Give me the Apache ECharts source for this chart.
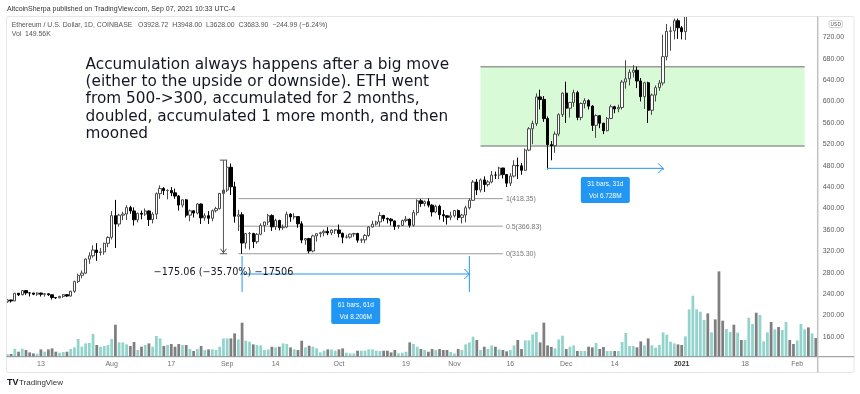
<!DOCTYPE html>
<html><head><meta charset="utf-8">
<script src="https://cdn.jsdelivr.net/npm/echarts/dist/echarts.min.js"></script>
<style>html,body{margin:0;padding:0;background:#fff}#c{width:860px;height:394px}</style>
</head><body><div id="c"></div>
<script>
// ---------- DATA ----------
const startDate = '2020-07-04';
// [open, high, low, close]
const ohlcJul = [[225.4,230.0,223.5,228.9],[228.9,229.0,224.0,227.1],[227.1,242.0,226.5,241.4],[241.4,241.6,236.3,238.6],[238.6,247.0,237.6,246.4],[246.4,247.3,238.6,242.1],[242.1,243.0,235.5,241.8],[241.8,242.2,237.9,239.6],[239.6,243.0,236.5,241.8],[241.8,242.5,235.4,239.5],[239.5,241.1,235.0,240.4],[240.4,241.0,236.6,238.6],[238.6,238.9,229.6,233.5],[233.5,234.4,231.0,232.8],[232.8,236.9,232.2,235.5],[235.5,239.9,232.8,238.8],[238.8,239.2,234.7,236.2],[236.2,246.0,235.4,245.1],[245.1,265.0,242.2,263.3],[263.3,278.0,260.6,275.0],[275.0,283.9,269.5,279.0],[279.0,306.6,277.2,305.3],[305.3,318.0,296.5,311.5],[311.5,331.0,308.0,322.2],[322.2,335.0,302.0,317.6],[317.6,326.0,312.0,318.7],[318.7,336.0,313.5,334.8],[334.8,348.0,327.5,345.9]];
const ohlcAug = [[345.9,395.0,342.0,386.5],[386.5,416.0,326.0,370.8],[370.8,390.0,366.0,387.4],[387.4,393.9,378.0,389.6],[389.6,406.0,378.5,401.6],[401.6,405.0,390.0,395.3],[395.3,402.0,368.0,378.7],[378.7,392.0,374.0,391.0],[391.0,396.0,379.6,389.3],[389.3,400.0,386.0,395.3],[395.3,396.5,367.0,379.2],[379.2,393.0,372.0,389.4],[389.4,430.0,380.0,427.6],[427.6,443.0,418.0,437.3],[437.3,440.0,425.0,433.4],[433.4,436.0,417.0,433.5],[433.5,440.0,423.0,429.2],[429.2,437.0,418.0,423.2],[423.2,425.0,396.0,406.3],[406.3,417.0,402.0,416.1],[416.1,417.5,383.0,387.4],[387.4,398.0,376.0,395.6],[395.6,396.5,383.0,391.4],[391.4,410.0,389.0,408.3],[408.3,409.0,371.0,382.5],[382.5,391.0,377.0,386.4],[386.4,395.0,371.0,381.7],[381.7,398.0,376.0,395.8],[395.8,403.0,392.5,399.7],[399.7,429.0,398.0,428.1],[428.1,438.0,420.0,434.3]];
const ohlcSep = [[434.3,490.4,430.5,477.0],[477.0,484.0,425.0,440.5],[440.5,450.0,373.5,385.4],[385.4,397.5,358.0,388.2],[388.2,393.0,315.3,335.3],[335.3,354.0,325.0,352.9],[352.9,356.0,323.0,353.1],[353.1,354.5,326.0,337.7],[337.7,354.0,334.0,351.7],[351.7,372.0,350.0,368.0],[368.0,375.0,356.0,374.7],[374.7,390.0,369.0,386.6],[386.6,389.0,358.0,365.6],[365.6,381.0,360.0,377.5],[377.5,379.0,359.0,364.0],[364.0,370.0,360.0,365.3],[365.3,394.0,363.0,389.2],[389.2,391.0,375.0,384.2],[384.2,391.0,379.5,384.8],[384.8,385.5,364.0,371.3],[371.3,376.0,335.0,340.9],[340.9,344.5,332.0,343.7],[343.7,345.0,316.0,320.4],[320.4,351.0,318.0,348.6],[348.6,353.0,338.0,352.8],[352.8,356.5,346.0,354.6],[354.6,360.5,348.0,357.3],[357.3,365.0,350.0,354.2],[354.2,361.0,350.0,359.6],[359.6,361.0,352.5,359.8]];
const ohlcOct = [[359.8,370.0,346.0,353.4],[353.4,355.0,335.0,346.2],[346.2,351.0,344.0,346.3],[346.3,353.0,343.5,352.0],[352.0,354.5,347.0,353.1],[353.1,354.5,336.0,340.7],[340.7,344.0,335.5,341.3],[341.3,352.0,335.0,349.5],[349.5,367.0,347.0,365.3],[365.3,377.0,364.0,370.7],[370.7,377.0,368.0,374.8],[374.8,393.0,366.0,386.9],[386.9,388.0,376.0,381.2],[381.2,383.0,372.0,379.9],[379.9,382.0,368.0,376.7],[376.7,377.5,360.0,366.4],[366.4,369.0,362.0,368.4],[368.4,379.0,367.0,377.4],[377.4,386.0,374.0,379.9],[379.9,381.0,364.0,368.5],[368.5,397.0,366.0,392.2],[392.2,417.0,387.0,414.3],[414.3,418.0,403.0,409.2],[409.2,415.0,404.0,412.8],[412.8,419.0,402.0,406.2],[406.2,408.0,385.0,393.4],[393.4,407.0,391.0,404.0],[404.0,407.0,379.0,388.4],[388.4,397.0,375.0,386.3],[386.3,387.0,370.0,383.4],[383.4,394.0,378.0,386.2]];
const ohlcNov = [[386.2,397.0,383.0,396.1],[396.1,398.0,378.0,383.2],[383.2,390.0,372.0,387.7],[387.7,405.0,374.0,401.3],[401.3,419.0,398.0,415.2],[415.2,453.0,414.0,449.3],[449.3,455.0,425.0,434.6],[434.6,456.0,430.0,453.3],[453.3,460.0,431.0,444.7],[444.7,453.0,441.0,449.5],[449.5,470.0,447.0,462.4],[462.4,469.0,455.0,462.3],[462.3,478.0,455.0,475.6],[475.6,476.0,456.0,463.3],[463.3,464.0,440.0,447.3],[447.3,466.0,442.0,460.5],[460.5,490.0,458.0,480.5],[480.5,495.0,455.0,479.7],[479.7,485.0,463.0,471.3],[471.3,512.0,470.0,509.1],[509.1,552.0,507.0,549.0],[549.0,564.0,520.0,558.8],[558.8,615.0,554.0,608.5],[608.5,622.0,585.0,603.9],[603.9,610.0,562.0,568.0],[568.0,572.0,475.0,519.3],[519.3,526.0,490.0,517.3],[517.3,544.0,504.0,539.0],[539.0,578.0,535.0,575.3],[575.3,617.0,571.0,615.5]];
const ohlcDec = [[615.5,637.0,560.0,587.4],[587.4,599.0,570.0,598.2],[598.2,622.0,590.0,616.5],[616.5,620.0,565.0,570.2],[570.2,598.0,565.0,596.2],[596.2,606.0,587.0,601.6],[601.6,604.0,585.0,591.3],[591.3,593.0,545.0,555.3],[555.3,576.0,532.0,573.5],[573.5,574.0,550.0,559.4],[559.4,560.0,539.0,545.4],[545.4,571.0,544.0,568.3],[568.3,594.0,567.0,590.2],[590.2,592.0,578.0,586.1],[586.1,594.0,580.0,588.8],[588.8,640.0,585.0,636.4],[636.4,677.0,624.0,642.5],[642.5,660.0,630.0,654.6],[654.6,668.0,645.0,658.4],[658.4,665.0,625.0,638.3],[638.3,644.0,600.0,609.0],[609.0,637.0,586.0,635.0],[635.0,637.0,560.0,583.6],[583.6,615.0,575.0,612.0],[612.0,630.0,600.0,625.9],[625.9,640.0,620.0,634.6],[634.6,725.0,630.0,683.8],[683.8,745.0,677.0,731.1],[731.1,740.0,695.0,731.9],[731.9,755.0,716.0,751.0],[751.0,755.0,717.0,737.8]];
const ohlcJan = [[737.8,741.0,716.0,730.5],[730.5,786.0,715.0,775.0],[775.0,1011.0,770.0,979.0],[979.0,1160.0,892.0,1042.0],[1042.0,1140.0,980.0,1100.0],[1100.0,1215.0,1065.0,1208.0],[1208.0,1278.0,1170.0,1225.0],[1225.0,1266.0,1090.0,1224.0],[1224.0,1300.0,1199.0,1281.0],[1281.0,1348.0,1171.0,1262.0],[1262.0,1265.0,917.0,1088.0],[1088.0,1149.0,1014.0,1045.0],[1045.0,1138.0,1000.0,1132.0],[1132.0,1248.0,1100.0,1218.0],[1218.0,1250.0,1065.0,1171.0],[1171.0,1290.0,1150.0,1232.0],[1232.0,1265.0,1150.0,1228.0],[1228.0,1265.0,1170.0,1255.0],[1255.0,1440.0,1250.0,1379.0],[1379.0,1390.0,1250.0,1379.5],[1379.5,1380.0,1040.0,1108.0],[1108.0,1250.0,1020.0,1231.0],[1231.0,1263.0,1190.0,1234.0],[1234.0,1395.0,1225.0,1391.0],[1391.0,1475.0,1310.0,1324.0],[1324.0,1370.0,1255.0,1357.0],[1357.0,1370.0,1215.0,1249.0],[1249.0,1350.0,1225.0,1336.0],[1336.0,1420.0,1290.0,1383.0],[1383.0,1390.0,1310.0,1380.0],[1380.0,1385.0,1275.0,1315.0]];
const ohlcFeb = [[1315.0,1375.0,1300.0,1369.0],[1369.0,1540.0,1356.0,1515.0],[1515.0,1670.0,1500.0,1661.0],[1661.0,1695.0,1540.0,1590.0],[1590.0,1740.0,1560.0,1720.0],[1720.0,1745.0,1650.0,1680.0]];

// volume, thousands
const volJul = [43,43,123,80,128,107,69,53,48,117,80,117,133,80,64,75,80,123,149,283,160,213,219,363,187,160,171,187];
const volAug = [283,512,229,229,197,171,235,107,160,187,213,160,331,293,171,187,203,160,203,187,187,123,91,123,171,107,117,117,107,160,293];
const volSep = [293,293,373,277,544,256,240,197,187,181,107,117,160,149,160,213,203,149,117,107,256,149,176,160,133,69,96,117,117,96];
const volOct = [117,133,64,53,53,96,96,96,117,117,96,91,96,96,69,107,53,64,80,229,203,160,123,107,80,123,107,123,107,107,75];
const volNov = [53,123,107,197,229,320,267,107,160,123,181,160,117,107,85,107,181,267,123,261,261,357,395,229,544,181,155,133,277,336];
const volDec = [123,160,181,91,91,91,160,149,219,123,155,91,91,91,91,235,379,171,171,149,245,181,293,181,144,187,389,352,240,213,197];
const volJan = [187,325,757,976,757,720,587,693,389,597,1365,576,443,395,512,384,267,267,624,523,704,667,245,389,555,437,475,427,555,267,203];
const volFeb = [261,523,437,469,373,299];

// time-axis tick labels
const tickDates  = ['2020-07-13','2020-08-01','2020-08-17','2020-09-01','2020-09-14','2020-10-01','2020-10-19','2020-11-01','2020-11-16','2020-12-01','2020-12-14','2021-01-01','2021-01-18','2021-02-01'];
const tickTexts  = ['13','Aug','17','Sep','14','Oct','19','Nov','16','Dec','14','2021','18','Feb'];

// drawings (anchored in date / price)
const fibLevels = [418.35, 366.83, 315.30];
const fibLabels = ['1(418.35)', '0.5(366.83)', '0(315.30)'];
const fibDates  = ['2020-09-04', '2020-11-14'];
const measureDates = ['2020-08-30', '2020-08-31', '2020-09-01'];
const measurePrices = [490.36, 315.30];
const measureText = '\u2212175.06 (\u221235.70%) \u221217506';
const range1Dates = ['2020-09-05', '2020-11-05'];
const range1Prices = [311, 277.4, 244];
const range1Text = ['61 bars, 61d', 'Vol 8.206M'];
const range2Dates = ['2020-11-26', '2020-12-27'];
const range2Prices = [475, 475, 472];
const range2Text = ['31 bars, 31d', 'Vol 6.728M'];
const zoneDates = ['2020-11-08', '2021-02-03'];
const zonePrices = [665, 516.7];
const noteAnchor = ['2020-07-25', 686];
const noteLines = ['Accumulation always happens after a big move', '(either to the upside or downside). ETH went', 'from 500->300, accumulated for 2 months,', 'doubled, accumulated 1 more month, and then', 'mooned'];

// ---------- BUILD ----------
const ohlc = [].concat(ohlcJul, ohlcAug, ohlcSep, ohlcOct, ohlcNov, ohlcDec, ohlcJan, ohlcFeb);
const vols = [].concat(volJul, volAug, volSep, volOct, volNov, volDec, volJan, volFeb);
const dates = [];
const t0 = Date.parse(startDate + 'T00:00:00Z');
for (let k = 0; k < ohlc.length; k++) dates.push(new Date(t0 + k * 86400000).toISOString().slice(0, 10));
const tickMap = {};
tickDates.forEach((d, k) => tickMap[d] = tickTexts[k]);

const FONT = '"Liberation Sans", Arial, sans-serif';
const chart = echarts.init(document.getElementById('c'), null, {renderer: 'canvas'});
const gridL = 5.5, gridR = 42.3;
chart.setOption({
  animation: false,
  backgroundColor: '#ffffff',
  grid: [
    {left: gridL, right: gridR, top: 15.9, height: 342.3, outerBoundsMode: 'none'},
    {left: gridL, right: gridR, top: 256.7, height: 100, outerBoundsMode: 'none'}
  ],
  xAxis: [
    {type: 'category', gridIndex: 0, data: dates, boundaryGap: true, show: false},
    {type: 'category', gridIndex: 1, data: dates, boundaryGap: true,
      axisLine: {show: false}, axisTick: {show: false}, splitLine: {show: false},
      axisLabel: {
        interval: (i, v) => tickMap[v] !== undefined,
        formatter: v => v === '2021-01-01' ? '{b|' + tickMap[v] + '}' : tickMap[v],
        fontSize: 7, color: '#707070', margin: 4, fontFamily: FONT, hideOverlap: false,
        rich: {b: {fontSize: 7, color: '#333', fontWeight: 'bold', fontFamily: FONT}}
      }}
  ],
  yAxis: [
    {type: 'value', gridIndex: 0, position: 'right', min: 120, max: 760, interval: 40, scale: false,
      axisLine: {show: false}, axisTick: {show: false}, splitLine: {show: false},
      axisLabel: {showMinLabel: false, showMaxLabel: false, formatter: v => v.toFixed(2),
        fontSize: 7, color: '#5a5a5a', margin: 5, fontFamily: FONT}},
    {type: 'value', gridIndex: 1, min: 0, max: 1600, show: false}
  ],
  series: [
    {type: 'bar', xAxisIndex: 1, yAxisIndex: 1, barWidth: '74%', z: 2,
      data: vols.map((v, k) => ({value: v, itemStyle: {color: ohlc[k][3] >= ohlc[k][0] ? '#92d3cc' : '#7f7f7f'}}))},
    {type: 'candlestick', xAxisIndex: 0, yAxisIndex: 0, barWidth: 2.8, clip: true, z: 3,
      data: ohlc.map(r => [r[0], r[3], r[2], r[1]]),
      itemStyle: {color: '#ffffff', color0: '#000000', borderColor: '#4a4a4a', borderColor0: '#000000', borderWidth: 1}}
  ]
});

// ---------- DRAWINGS ----------
const P = (d, p) => chart.convertToPixel({xAxisIndex: 0, yAxisIndex: 0}, [d, p]);
const g = [];
const line = (a, b, stroke, w, z) => g.push({type: 'line', z: z, silent: true, shape: {x1: a[0], y1: a[1], x2: b[0], y2: b[1]}, style: {stroke: stroke, lineWidth: w}});
const text = (x, y, s, font, fill, align, va, z) => g.push({type: 'text', z: z, silent: true, style: {x: x, y: y, text: s, font: font, fill: fill, textAlign: align, textVerticalAlign: va}});

// mask above the price pane (pane clips candles that run off the top)
g.push({type: 'rect', z: 15, silent: true, shape: {x: 300, y: 0, width: 560, height: 16}, style: {fill: '#ffffff'}});
// frame
g.push({type: 'rect', z: 16, silent: true, shape: {x: 6.5, y: 16.5, width: 847.5, height: 356, r: 2}, style: {fill: 'none', stroke: '#e6e6e6', lineWidth: 1}});
line([6.5, 356.7], [854, 356.7], '#8f8f8f', 1, 20);
line([817.7, 16.5], [817.7, 372.5], '#c2c2c2', 1.5, 20);
g.push({type: 'rect', z: 20, silent: true, shape: {x: 829, y: 20.5, width: 13.5, height: 7, r: 2}, style: {fill: '#fff', stroke: '#cfcfcf', lineWidth: 1}});
text(835.75, 24.2, 'USD', '5px ' + FONT, '#555', 'center', 'middle', 21);

// green accumulation zone
const z0 = P(zoneDates[0], zonePrices[0]), z1 = P(zoneDates[1], zonePrices[1]);
g.push({type: 'rect', z: 0, silent: true, shape: {x: z0[0], y: z0[1], width: z1[0] - z0[0], height: z1[1] - z0[1]}, style: {fill: '#d9fad6'}});
line([z0[0], z0[1]], [z1[0], z0[1]], '#999999', 1.5, 1);
line([z0[0], z1[1]], [z1[0], z1[1]], '#999999', 1.5, 1);

// fib retracement
fibLevels.forEach((lv, k) => {
  const a = P(fibDates[0], lv), b = P(fibDates[1], lv);
  line(a, b, '#9b9b9b', 1, 1);
  text(b[0] + 3, b[1] + 0.5, fibLabels[k], '7px ' + FONT, '#777', 'left', 'middle', 10);
});

// price range measure
{
  const top = P(measureDates[1], measurePrices[0]), bot = P(measureDates[1], measurePrices[1]);
  const l0 = P(measureDates[0], measurePrices[0]), r0 = P(measureDates[2], measurePrices[0]);
  line(top, bot, '#555', 1, 10);
  line([l0[0], top[1]], [r0[0], top[1]], '#555', 1, 10);
  line([l0[0], bot[1]], [r0[0], bot[1]], '#555', 1, 10);
  g.push({type: 'polyline', z: 10, silent: true, shape: {points: [[bot[0] - 3, bot[1] - 5], [bot[0], bot[1] - 1], [bot[0] + 3, bot[1] - 5]]}, style: {stroke: '#555', lineWidth: 1, fill: 'none'}});
  text(bot[0], bot[1] + 19, measureText, '9.7px "DejaVu Sans", sans-serif', '#131722', 'center', 'middle', 12);
}

// date ranges
function dateRange(ds, ps, lbl, gap) {
  const BLUE = '#2196f3';
  const a = P(ds[0], ps[1]), b = P(ds[1], ps[1]);
  if (ps[0] !== ps[2]) {
    const at = P(ds[0], ps[0]), ab = P(ds[0], ps[2]);
    const bt = P(ds[1], ps[0]), bb = P(ds[1], ps[2]);
    line(at, ab, BLUE, 1, 10);
    line(bt, bb, BLUE, 1, 10);
  }
  line(a, b, BLUE, 1, 10);
  g.push({type: 'polyline', z: 10, silent: true, shape: {points: [[b[0] - 5, b[1] - 5], [b[0], b[1]], [b[0] - 5, b[1] + 5]]}, style: {stroke: BLUE, lineWidth: 1, fill: 'none'}});
  const low = P(ds[0], ps[2]);
  const cx = (a[0] + b[0]) / 2, ty = low[1] + gap;
  g.push({type: 'rect', z: 11, silent: true, shape: {x: cx - 24.5, y: ty, width: 49, height: 26, r: 2}, style: {fill: BLUE}});
  text(cx, ty + 7.5, lbl[0], '6.5px ' + FONT, '#fff', 'center', 'middle', 12);
  text(cx, ty + 19.5, lbl[1], '6.5px ' + FONT, '#fff', 'center', 'middle', 12);
}
dateRange(range1Dates, range1Prices, range1Text, 6);
dateRange(range2Dates, range2Prices, range2Text, 7);

// note text
{
  const p = P(noteAnchor[0], noteAnchor[1]);
  noteLines.forEach((s, k) => text(p[0], p[1] + 9.2 + k * 17.4, s, '15.3px "DejaVu Sans", sans-serif', '#131722', 'left', 'middle', 12));
}

// header
text(7, 9, 'AltcoinSherpa published on TradingView.com, Sep 07, 2021 10:33 UTC-4', '7px ' + FONT, '#333', 'left', 'middle', 20);
text(11.7, 25, 'Ethereum / U.S. Dollar, 1D, COINBASE   O3928.72  H3948.00  L3628.00  C3683.90  \u2212244.99 (\u22126.24%)', '6.9px ' + FONT, '#555', 'left', 'middle', 20);
text(11.7, 34, 'Vol  149.56K', '6.9px ' + FONT, '#555', 'left', 'middle', 20);
// footer logo
text(7, 383, 'TV', 'bold 9px ' + FONT, '#131722', 'left', 'middle', 20);
text(19, 383, 'TradingView', '8px ' + FONT, '#333', 'left', 'middle', 20);

chart.setOption({graphic: {elements: g}});
</script>
</body></html>
